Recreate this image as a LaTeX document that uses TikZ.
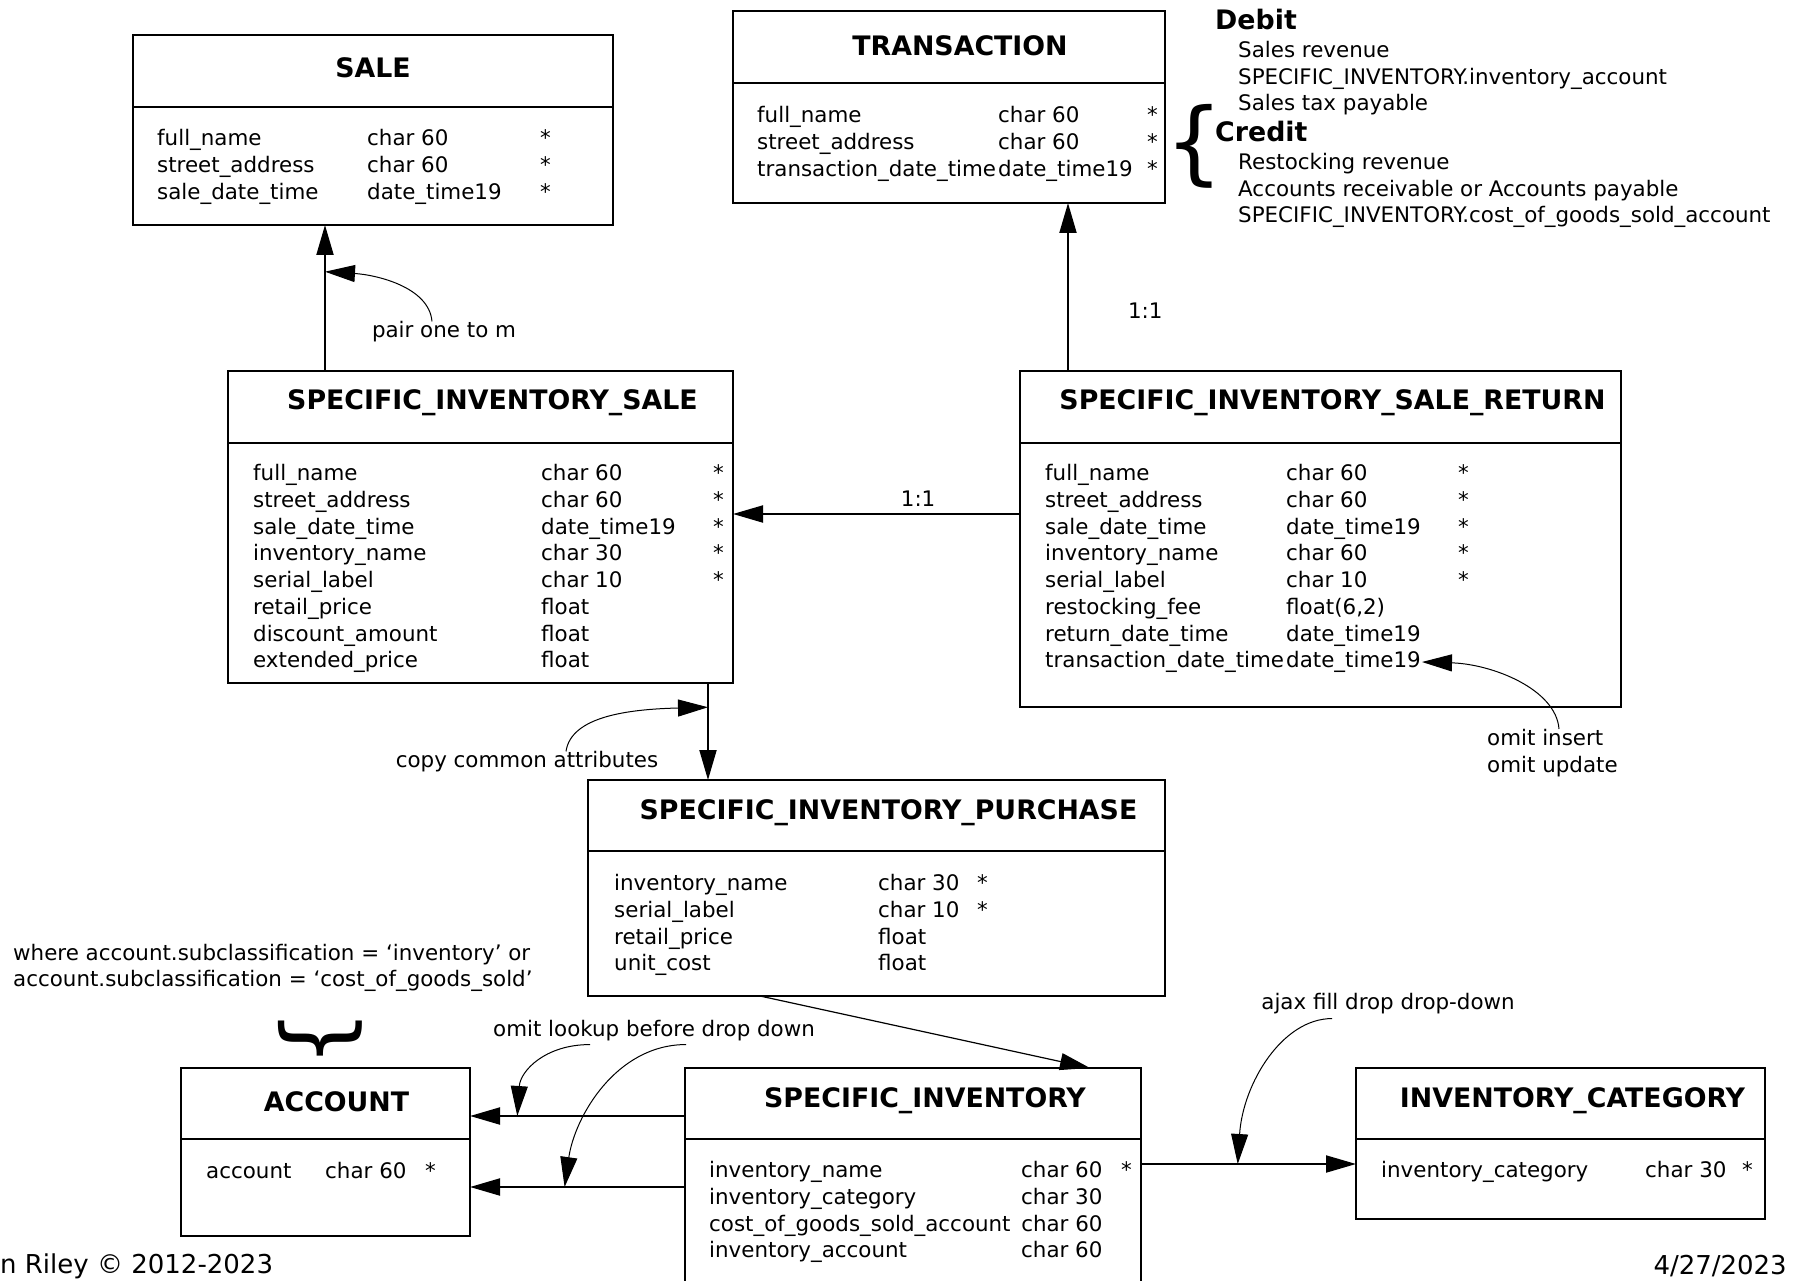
\documentclass[tikz,border=0pt]{standalone}
\usepackage{fontspec}
\setmainfont{DejaVu Sans}
\usetikzlibrary{arrows.meta,positioning}

\begin{document}
\begin{tikzpicture}[x=1pt, y=-1pt,
    every node/.style={font=\fontsize{21.4}{26.7}\selectfont},
    box/.style={draw, line width=2pt, inner sep=0pt, outer sep=0pt, anchor=north west},
    ttl/.style={font=\fontsize{26.8}{31}\selectfont\bfseries, inner sep=0pt},
    rows/.style={inner sep=0pt},
    lbl/.style={inner sep=0pt},
    brace/.style={inner sep=0pt, font=\fontsize{91}{91}\selectfont},
    conn/.style={line width=2pt, -{Triangle[length=30pt,width=17pt]}},
    note/.style={line width=1pt, -{Triangle[length=30pt,width=17pt]}}]
    \path[fill=white, use as bounding box] (0,0) rectangle (1800,1281);

    % SALE
    \node[box, minimum width=480pt, minimum height=72pt] (sale) at (133,35) {};
    \node[box, minimum width=480pt, minimum height=118pt, below=0pt of sale] (sale-b) {};
    \node[ttl] (sale-t) at ([shift={(0,-3)}]sale.center) {SALE};
    \node[rows, below right=20pt and 24pt of sale-b.north west] (sale-r) {\begin{tabular}{@{}p{210pt}@{}p{173pt}@{}l@{}}
        full\_name & char 60 & *\\
        street\_address & char 60 & *\\
        sale\_date\_time & date\_time19 & *
    \end{tabular}};

    % TRANSACTION
    \node[box, minimum width=432pt, minimum height=72pt] (trans) at (733,11) {};
    \node[box, minimum width=432pt, minimum height=120pt, below=0pt of trans] (trans-b) {};
    \node[ttl] (trans-t) at ([shift={(11,-1)}]trans.center) {TRANSACTION};
    \node[rows, below right=21pt and 24pt of trans-b.north west] (trans-r) {\begin{tabular}{@{}p{241pt}@{}p{149pt}@{}l@{}}
        full\_name & char 60 & *\\
        street\_address & char 60 & *\\
        transaction\_date\_time & date\_time19 & *
    \end{tabular}};

    % Debit / Credit
    \node[brace] (brace-t) at (1194,146) {\{};
    \node[ttl, anchor=west] (debit) at (1215,20) {Debit};
    \node[lbl, anchor=north west, align=left] (debit-l) at (1238,41) {Sales revenue\\SPECIFIC\_INVENTORY.inventory\_account\\Sales tax payable};
    \node[ttl, anchor=west] (credit) at (1215,132) {Credit};
    \node[lbl, anchor=north west, align=left] (credit-l) at (1238,153) {Restocking revenue\\Accounts receivable or Accounts payable\\SPECIFIC\_INVENTORY.cost\_of\_goods\_sold\_account};

    % SPECIFIC_INVENTORY_SALE
    \node[box, minimum width=505pt, minimum height=72pt] (sis) at (228,371) {};
    \node[box, minimum width=505pt, minimum height=240pt, below=0pt of sis] (sis-b) {};
    \node[ttl] (sis-t) at ([shift={(12,-4)}]sis.center) {SPECIFIC\_INVENTORY\_SALE};
    \node[rows, below right=19pt and 25pt of sis-b.north west] (sis-r) {\begin{tabular}{@{}p{288pt}@{}p{172pt}@{}l@{}}
        full\_name & char 60 & *\\
        street\_address & char 60 & *\\
        sale\_date\_time & date\_time19 & *\\
        inventory\_name & char 30 & *\\
        serial\_label & char 10 & *\\
        retail\_price & float & \\
        discount\_amount & float & \\
        extended\_price & float &
    \end{tabular}};

    % SPECIFIC_INVENTORY_SALE_RETURN
    \node[box, minimum width=601pt, minimum height=72pt] (sisr) at (1020,371) {};
    \node[box, minimum width=601pt, minimum height=264pt, below=0pt of sisr] (sisr-b) {};
    \node[ttl] (sisr-t) at ([shift={(12,-4)}]sisr.center) {SPECIFIC\_INVENTORY\_SALE\_RETURN};
    \node[rows, below right=19pt and 25pt of sisr-b.north west] (sisr-r) {\begin{tabular}{@{}p{241pt}@{}p{172pt}@{}l@{}}
        full\_name & char 60 & *\\
        street\_address & char 60 & *\\
        sale\_date\_time & date\_time19 & *\\
        inventory\_name & char 60 & *\\
        serial\_label & char 10 & *\\
        restocking\_fee & float(6,2) & \\
        return\_date\_time & date\_time19 & \\
        transaction\_date\_time & date\_time19 &
    \end{tabular}};
    \coordinate (sisr-dt) at ([shift={(402,219)}]sisr-b.north west);

    % SPECIFIC_INVENTORY_PURCHASE
    \node[box, minimum width=577pt, minimum height=71pt] (sip) at (588,780) {};
    \node[box, minimum width=577pt, minimum height=145pt, below=0pt of sip] (sip-b) {};
    \node[ttl] (sip-t) at ([shift={(12,-3)}]sip.center) {SPECIFIC\_INVENTORY\_PURCHASE};
    \node[rows, below right=21pt and 26pt of sip-b.north west] (sip-r) {\begin{tabular}{@{}p{264pt}@{}p{99pt}@{}l@{}}
        inventory\_name & char 30 & *\\
        serial\_label & char 10 & *\\
        retail\_price & float & \\
        unit\_cost & float &
    \end{tabular}};

    % ACCOUNT
    \node[box, minimum width=289pt, minimum height=71pt] (acc) at (181,1068) {};
    \node[box, minimum width=289pt, minimum height=97pt, below=0pt of acc] (acc-b) {};
    \node[ttl] (acc-t) at ([shift={(11,-2)}]acc.center) {ACCOUNT};
    \node[rows, below right=21pt and 25pt of acc-b.north west] (acc-r) {\begin{tabular}{@{}p{119pt}@{}p{100pt}@{}l@{}}
        account & char 60 & *
    \end{tabular}};
    \node[brace, rotate=90] (brace-a) at (320,1039) {\{};
    \node[lbl, anchor=west, align=left] (where) at (13,968) {where account.subclassification = ‘inventory’ or\\account.subclassification = ‘cost\_of\_goods\_sold’};

    % SPECIFIC_INVENTORY
    \node[box, minimum width=456pt, minimum height=71pt] (si) at (685,1068) {};
    \node[box, minimum width=456pt, minimum height=145pt, below=0pt of si] (si-b) {};
    \node[ttl] (si-t) at ([shift={(12,-3)}]si.center) {SPECIFIC\_INVENTORY};
    \node[rows, below right=20pt and 24pt of si-b.north west] (si-r) {\begin{tabular}{@{}p{312pt}@{}p{100pt}@{}l@{}}
        inventory\_name & char 60 & *\\
        inventory\_category & char 30 & \\
        cost\_of\_goods\_sold\_account & char 60 & \\
        inventory\_account & char 60 &
    \end{tabular}};

    % INVENTORY_CATEGORY
    \node[box, minimum width=409pt, minimum height=71pt] (ic) at (1356,1068) {};
    \node[box, minimum width=409pt, minimum height=80pt, below=0pt of ic] (ic-b) {};
    \node[ttl] (ic-t) at ([shift={(12,-3)}]ic.center) {INVENTORY\_CATEGORY};
    \node[rows, below right=20pt and 25pt of ic-b.north west] (ic-r) {\begin{tabular}{@{}p{264pt}@{}p{97pt}@{}l@{}}
        inventory\_category & char 30 & *
    \end{tabular}};

    % Links
    \draw[conn] ([xshift=97pt]sis.north west) -- coordinate[pos=.68] (pair-pt) ([xshift=192pt]sale-b.south west);
    \draw[conn] ([xshift=48pt]sisr.north west) -- node[lbl, pos=.36, right=59pt] (one-t) {1:1} ([xshift=335pt]trans-b.south west);
    \draw[conn] ([yshift=-71pt]sisr-b.north west) -- node[lbl, pos=.355, above=7pt] (one-s) {1:1} ([yshift=-71pt]sis-b.north east);
    \draw[conn] ([xshift=-25pt]sis-b.south east) -- coordinate[pos=.25] (copy-pt) ([xshift=120pt]sip.north west);
    \draw[line width=1.2pt, -{Triangle[length=30pt,width=17pt]}] ([xshift=172pt]sip-b.south west) -- ([xshift=405pt]si.north west);
    \draw[conn] ([yshift=-48pt]si.north west) -- coordinate[pos=.78] (lk1-pt) ([yshift=-48pt]acc.north east);
    \draw[conn] ([yshift=-48pt]si-b.north west) -- coordinate[pos=.56] (lk2-pt) ([yshift=-48pt]acc-b.north east);
    \draw[conn] ([yshift=-25pt]si-b.north east) -- coordinate[pos=.45] (ajax-pt) ([yshift=-25pt]ic-b.north west);

    % Notes
    \node[lbl] (pair) at (444,332) {pair one to m};
    \draw[note] ([xshift=-12pt]pair.north) .. controls +(-3,-35) and +(50,3) .. (pair-pt);
    \node[lbl] (copy) at (527,762) {copy common attributes};
    \draw[note] ([xshift=39pt]copy.north) .. controls +(5,-35) and +(-80,2) .. (copy-pt);
    \node[lbl, anchor=north west, align=left] (omit) at (1487,729) {omit insert\\omit update};
    \draw[note] ([xshift=72pt]omit.north west) .. controls +(-3,-40) and +(70,2) .. (sisr-dt);
    \node[lbl] (omitlk) at (654,1031) {omit lookup before drop down};
    \draw[note] ([shift={(-64,3)}]omitlk.south) .. controls +(-45,0) and +(3,-45) .. (lk1-pt);
    \draw[note] ([shift={(32,3)}]omitlk.south) .. controls +(-70,0) and +(10,-70) .. (lk2-pt);
    \node[lbl] (ajax) at (1388,1004) {ajax fill drop drop-down};
    \draw[note] ([shift={(-56,4)}]ajax.south) .. controls +(-50,0) and +(5,-80) .. (ajax-pt);

    % Footer
    \node[lbl, anchor=west, font=\fontsize{26}{31}\selectfont] (author) at (0,1266) {n Riley © 2012-2023};
    \node[lbl, anchor=east, font=\fontsize{26}{31}\selectfont] (date) at (1787,1266) {4/27/2023};
\end{tikzpicture}
\end{document}
